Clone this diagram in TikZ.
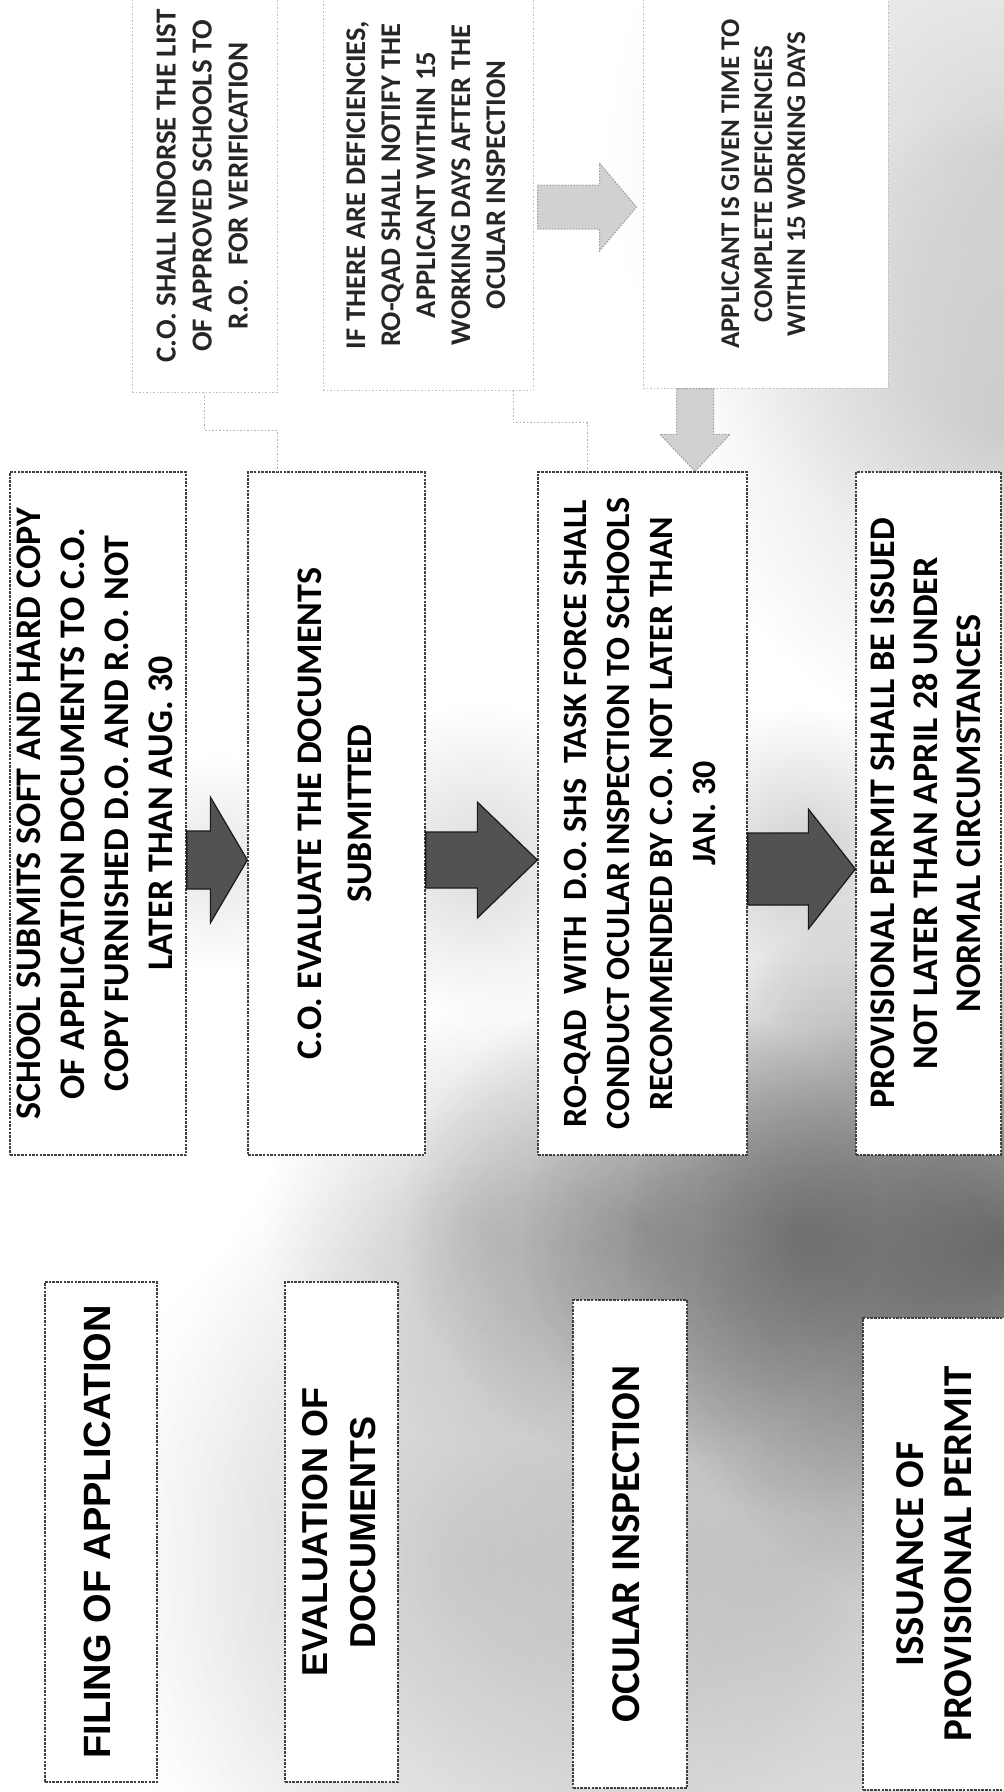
\documentclass[tikz,border=0pt]{standalone}
\usepackage{fontspec}
\usepackage{graphicx}
\setmainfont{Carlito}
\newfontfamily\arialfont{Liberation Sans}
\usetikzlibrary{calc}
\newcommand{\rtxt}[3]{\rotatebox{90}{\fontsize{#1}{#2}\selectfont\begin{tabular}{@{}c@{}}#3\end{tabular}}}
\newcommand{\myharrow}[6]{\path[#1] let \p1=#2, \p2=#3 in (\x1,\y1+#4) -- (\x2-#6,\y1+#4) -- (\x2-#6,\y1+#5) -- (\x2,\y1) -- (\x2-#6,\y1-#5) -- (\x2-#6,\y1-#4) -- (\x1,\y1-#4) -- cycle;}
\newcommand{\myvarrow}[6]{\path[#1] let \p1=#2, \p2=#3 in (\x1-#4,\y1) -- (\x1-#4,\y2+#6) -- (\x1-#5,\y2+#6) -- (\x1,\y2) -- (\x1+#5,\y2+#6) -- (\x1+#4,\y2+#6) -- (\x1+#4,\y1) -- cycle;}
% round grey cloud of the scan: centre x, centre y, radius, grey percent
\newcommand{\scanblob}[4]{\shade[blend mode=multiply, inner color=black!#4, outer color=white] (#1-2*#3,#2-2*#3) rectangle (#1+2*#3,#2+2*#3);}
\begin{document}
\begin{tikzpicture}[x=1pt,y=-1pt,
  procbox/.style={draw=black!75, line width=1.3pt, dash pattern=on 2.5pt off 1.2pt, fill=white, inner sep=0pt, font=\bfseries, text=black},
  labelbox/.style={procbox},
  notebox/.style={draw=black!25, line width=1pt, dash pattern=on 1.5pt off 2pt, fill=white, inner sep=0pt, font=\bfseries, text=black!85},
  darkarrow/.style={fill=black!68, draw=black!90, line width=1.2pt},
  lightarrow/.style={fill=black!18, draw=black!40, line width=1pt, dash pattern=on 1.5pt off 1.5pt},
  faintconn/.style={draw=black!30, line width=1pt, dash pattern=on 1.5pt off 2pt}]
\useasboundingbox (0,0) rectangle (1004,1792);
\begin{scope}
\clip (0,0) rectangle (1004,1792);
\fill[white] (0,0) rectangle (1004,1792);
% scanner grey
\scanblob{217}{862}{55}{10}
\scanblob{480}{862}{80}{14}
\scanblob{803}{866}{80}{20}
\scanblob{480}{1225}{110}{14}
\scanblob{640}{1225}{120}{22}
\scanblob{800}{1235}{140}{30}
\scanblob{1004}{1245}{190}{50}
\scanblob{800}{1560}{330}{22}
\scanblob{470}{1560}{200}{12}
\scanblob{1004}{150}{200}{16}
\scanblob{1004}{430}{160}{16}

% notes
\node[notebox, minimum width=145pt, minimum height=412pt] (n1) at (204.5,186)
  {\rtxt{29}{36}{C.O. SHALL INDORSE THE LIST\\OF APPROVED SCHOOLS TO\\R.O.\ \ FOR VERIFICATION}};
\node[notebox, minimum width=210pt, minimum height=410pt] (n2) at (428,185)
  {\rtxt{28.5}{35}{IF THERE ARE DEFICIENCIES,\\RO-QAD SHALL NOTIFY THE\\APPLICANT WITHIN 15\\WORKING DAYS AFTER THE\\OCULAR INSPECTION}};
\node[notebox, minimum width=245pt, minimum height=408pt] (n3) at (765.5,184)
  {\rtxt{27}{33}{APPLICANT IS GIVEN TIME TO\\COMPLETE DEFICIENCIES\\WITHIN 15 WORKING DAYS}};

% process boxes
\node[procbox, minimum width=176pt, minimum height=683pt] (p1) at (98,813.5)
  {\rtxt{36}{44}{SCHOOL SUBMITS SOFT AND HARD COPY\\OF APPLICATION DOCUMENTS TO C.O.\\COPY FURNISHED D.O. AND R.O. NOT\\LATER THAN AUG. 30}};
\node[procbox, minimum width=177pt, minimum height=683pt] (p2) at (336.5,813.5)
  {\rtxt{36}{50}{C.O. EVALUATE THE DOCUMENTS\\SUBMITTED}};
\node[procbox, minimum width=209pt, minimum height=683pt] (p3) at (642.5,813.5)
  {\rtxt{34}{43}{RO-QAD\ \ WITH\ \ D.O. SHS\ \ TASK FORCE SHALL\\CONDUCT OCULAR INSPECTION TO SCHOOLS\\RECOMMENDED BY C.O. NOT LATER THAN\\JAN. 30}};
\node[procbox, minimum width=145pt, minimum height=683pt] (p4) at (928.5,813.5)
  {\rtxt{36}{43}{PROVISIONAL PERMIT SHALL BE ISSUED\\NOT LATER THAN APRIL 28 UNDER\\NORMAL CIRCUMSTANCES}};

% stage labels
\node[labelbox, font=\arialfont\bfseries, minimum width=112pt, minimum height=500pt] (l1) at (101,1532)
  {\rtxt{38}{46}{FILING OF APPLICATION}};
\node[labelbox, font=\arialfont\bfseries, minimum width=113pt, minimum height=500pt] (l2) at (341.5,1532)
  {\rtxt{36}{48}{EVALUATION OF\\DOCUMENTS}};
\node[labelbox, minimum width=114pt, minimum height=488pt] (l3) at (630,1544)
  {\rtxt{41}{48}{OCULAR INSPECTION}};
\node[labelbox, minimum width=150pt, minimum height=472pt] (l4) at (938,1554)
  {\rtxt{41}{48}{ISSUANCE OF\\PROVISIONAL PERMIT}};

% faint elbow connectors
\draw[faintconn] (n1.south) -- ++(0,38) -| ([xshift=-59.5pt]p2.north);
\draw[faintconn] ([xshift=85pt]n2.south) -- ++(0,32) -| ([xshift=-55.5pt]p3.north);

% block arrows
\coordinate (a1) at (0,860);
\coordinate (a2) at (0,860);
\coordinate (a3) at (0,869);
\coordinate (la) at (0,207);
\coordinate (da) at (695,0);
\myharrow{darkarrow}{(p1.east |- a1)}{(p2.west |- a1)}{29pt}{63pt}{37pt}
\myharrow{darkarrow}{(p2.east |- a2)}{(p3.west |- a2)}{28pt}{58pt}{60pt}
\myharrow{darkarrow}{(p3.east |- a3)}{(p4.west |- a3)}{36pt}{60pt}{47pt}
\myharrow{lightarrow}{($(n2.east |- la)+(4,0)$)}{($(n3.west |- la)+(-6,0)$)}{22pt}{44pt}{37pt}
\myvarrow{lightarrow}{(n3.south -| da)}{(p3.north -| da)}{18.5pt}{35pt}{37pt}
\end{scope}
\end{tikzpicture}
\end{document}
